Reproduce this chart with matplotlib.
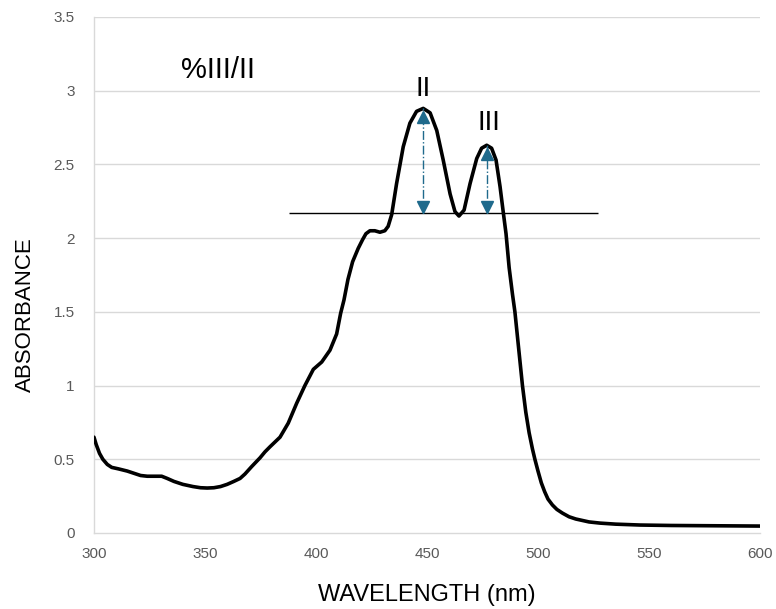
import matplotlib
matplotlib.use("Agg")
import matplotlib.pyplot as plt

wavelength = [300, 301, 302.5, 304, 306, 308, 311, 315, 318, 321, 324, 328, 330.5, 333, 336,
              340, 344.6, 348, 351, 354, 357, 360, 363, 365.8, 368, 371, 374.8, 377, 379.3,
              383.8, 387.5, 391.3, 395, 398.8, 402.6, 406.3, 409.3, 411.1, 412.6, 414.4, 416.5,
              419, 421, 422.5, 424.3, 426.5, 428.8, 431, 432.5, 434.1, 436.3, 439.3, 442.3,
              445.3, 448.3, 451.4, 454.4, 457.3, 460.4, 462.6, 464.4, 466.7, 469.4, 472.4,
              474.6, 476.9, 479.1, 481.1, 482.9, 484.4, 485.6, 487, 488.5, 489.6, 491.3, 493,
              494.5, 496, 497.5, 498.6, 500, 501.5, 503, 504.5, 506.5, 508.5, 511, 514, 517,
              520, 523, 528, 535, 546, 560, 580, 600]
absorbance = [0.65, 0.60, 0.54, 0.50, 0.465, 0.445, 0.435, 0.42, 0.405, 0.39, 0.385, 0.385,
              0.385, 0.37, 0.35, 0.33, 0.315, 0.307, 0.305, 0.307, 0.315, 0.33, 0.35, 0.37, 0.40,
              0.45, 0.51, 0.55, 0.585, 0.65, 0.745, 0.88, 1.00, 1.11, 1.16, 1.24, 1.35, 1.49,
              1.58, 1.72, 1.84, 1.93, 1.99, 2.03, 2.05, 2.05, 2.04, 2.05, 2.08, 2.16, 2.37, 2.62,
              2.78, 2.86, 2.88, 2.85, 2.73, 2.53, 2.30, 2.18, 2.15, 2.19, 2.37, 2.54, 2.61, 2.63,
              2.61, 2.53, 2.35, 2.17, 2.03, 1.80, 1.62, 1.50, 1.25, 1.00, 0.82, 0.68, 0.57, 0.50,
              0.42, 0.34, 0.28, 0.23, 0.19, 0.16, 0.135, 0.11, 0.095, 0.085, 0.075, 0.067, 0.06,
              0.054, 0.051, 0.049, 0.047]

baseline_value = 2.17
baseline_range = [387.8, 527]
peak_labels = ["II", "III"]
peak_wavelengths = [448.3, 476.9]
peak_values = [2.88, 2.63]
title_text = "%III/II"
x_ticks = [300, 350, 400, 450, 500, 550, 600]
y_ticks = [0, 0.5, 1, 1.5, 2, 2.5, 3, 3.5]
y_tick_labels = ["0", "0.5", "1", "1.5", "2", "2.5", "3", "3.5"]

plt.rcParams['font.family'] = ['Liberation Sans', 'DejaVu Sans']

fig = plt.figure(figsize=(7.76, 6.09), dpi=100)
ax = fig.add_axes([0.1211, 0.1248, 0.9794 - 0.1211, 0.9721 - 0.1248])

grid_c = '#d9d9d9'
for v in y_ticks[1:]:
    ax.axhline(v, color=grid_c, lw=1, zorder=0)

ax.plot(wavelength, absorbance, color='black', lw=2.6, solid_joinstyle='round',
        solid_capstyle='round', zorder=3)

ax.hlines(baseline_value, baseline_range[0], baseline_range[1], color='black', lw=1, zorder=2)

arrow_c = '#1f6a8c'
label_offsets = [(0, 0.13), (1.2, 0.15)]
for lab, xw, pv, off in zip(peak_labels, peak_wavelengths, peak_values, label_offsets):
    ax.vlines(xw, baseline_value, pv, color=arrow_c, lw=1, linestyles='-.', zorder=4)
    ax.plot([xw], [pv - 0.06], marker='^', ms=8, color=arrow_c, lw=0, zorder=5)
    ax.plot([xw], [baseline_value + 0.04], marker='v', ms=8, color=arrow_c, lw=0, zorder=5)
    ax.text(xw + off[0], pv + off[1], lab, fontsize=20, ha='center',
            va='center', color='black')

ax.text(356, 3.14, title_text, fontsize=21, ha='center', va='center', color='black')

ax.set_xlim(300, 600)
ax.set_ylim(0, 3.5)
ax.set_xticks(x_ticks)
ax.set_xticklabels([str(t) for t in x_ticks])
ax.set_yticks(y_ticks)
ax.set_yticklabels(y_tick_labels)
ax.tick_params(length=0, labelsize=11, labelcolor='#595959')
ax.tick_params(axis='x', pad=10)
ax.tick_params(axis='y', pad=14)

for s in ['top', 'right']:
    ax.spines[s].set_visible(False)
for s in ['left', 'bottom']:
    ax.spines[s].set_color(grid_c)
    ax.spines[s].set_linewidth(1)

ax.set_xlabel("WAVELENGTH (nm)", fontsize=17, labelpad=17)
ax.set_ylabel("ABSORBANCE", fontsize=16)
ax.yaxis.set_label_coords(-0.1036, 0.424)
ax.yaxis.label.set_va('center')

fig.savefig("out.png", dpi=100, facecolor='white')
